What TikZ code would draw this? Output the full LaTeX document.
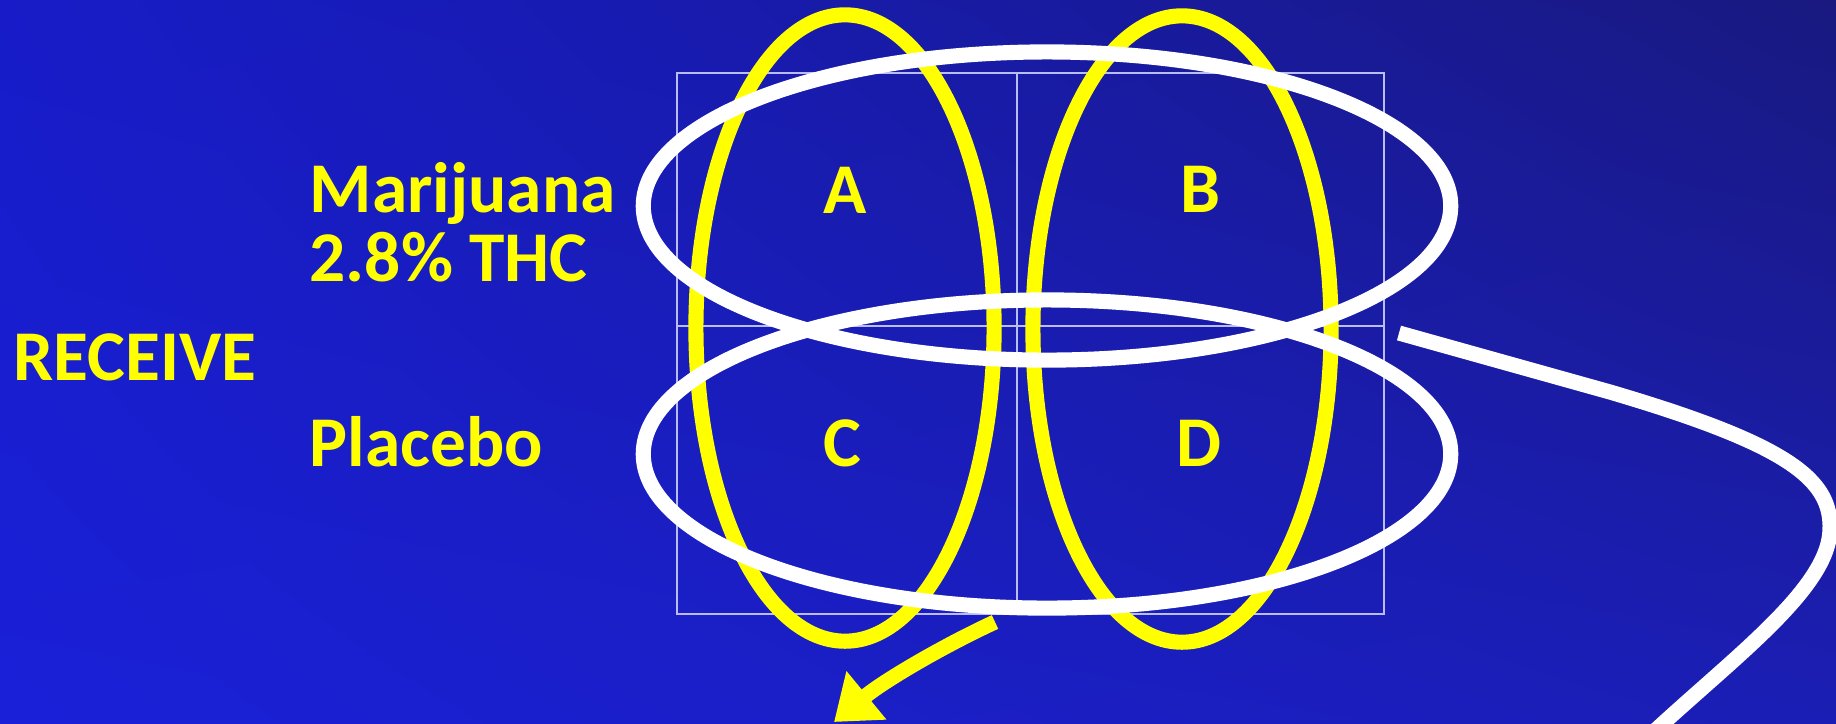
\documentclass[tikz,border=0pt]{standalone}
\usepackage{fontspec}
\setmainfont{Carlito}
\usetikzlibrary{shapes.geometric,arrows.meta,shadings}

\definecolor{hiyellow}{RGB}{255,255,0}
\definecolor{cellline}{RGB}{185,188,245}
\definecolor{bgul}{RGB}{23,28,200}
\definecolor{bgll}{RGB}{26,32,216}
\definecolor{bgur}{RGB}{25,25,128}
\definecolor{bglr}{RGB}{27,30,180}

\begin{document}
\begin{tikzpicture}[
        x=0.01cm, y=-0.01cm,
        txt/.style={text=hiyellow, font=\bfseries\fontsize{20.3}{19.6}\selectfont, inner sep=0pt, align=left},
        ring/.style={ellipse, draw, line width=4.3pt, inner sep=0pt},
        yring/.style={ring, draw=hiyellow, minimum width=2.98cm, minimum height=6.26cm},
        wring/.style={ring, draw=white, minimum width=8.07cm, minimum height=3.08cm},
        cellgrid/.style={draw=cellline, line width=0.5pt},
        yarrow/.style={draw=hiyellow, line width=4.3pt, -{Triangle[width=0.6cm,length=0.42cm]}},
        wline/.style={draw=white, line width=4.3pt}
    ]
        \useasboundingbox (0,0) rectangle (1836,723);
        \shade[upper left=bgul, lower left=bgll, upper right=bgur, lower right=bglr] (0,0) rectangle (1836,723);
        \clip (0,0) rectangle (1836,723);

        % the 2x2 table
        \draw[cellgrid] (677,73) rectangle (1384,614);
        \draw[cellgrid] (1017,73) -- (1017,614);
        \draw[cellgrid] (677,326) -- (1384,326);

        % columns
        \node[yring] (colL) at (845,328) {};
        \node[yring] (colR) at (1182,329) {};

        \coordinate (ystart) at (995,622);
        \coordinate (ytip) at (834,722);
        \draw[yarrow] (ystart) .. controls (945,645) and (885,680) .. (ytip);

        % rows
        \node[wring] (rowM) at (1047,206) {};
        \node[wring] (rowP) at (1047,454) {};

        \coordinate (wstart) at (1399,333);
        \coordinate (wend) at (1645,740);
        \draw[wline] (wstart) -- (1610,392) .. controls (1790,445) and (1832,480) .. (1830,530)
            .. controls (1828,590) and (1730,660) .. (wend);

        % labels
        \node[txt, anchor=base west] (marij) at (309,281) {Marijuana\\2.8\% THC};
        \node[txt, anchor=base west] (receive) at (13,380) {RECEIVE};
        \node[txt, anchor=base west] (placebo) at (309,466) {Placebo};

        \node[txt, anchor=base] (a) at (845,213) {A};
        \node[txt, anchor=base] (b) at (1200,212) {B};
        \node[txt, anchor=base] (c) at (842,466) {C};
        \node[txt, anchor=base] (d) at (1199,466) {D};
    \end{tikzpicture}
\end{document}
